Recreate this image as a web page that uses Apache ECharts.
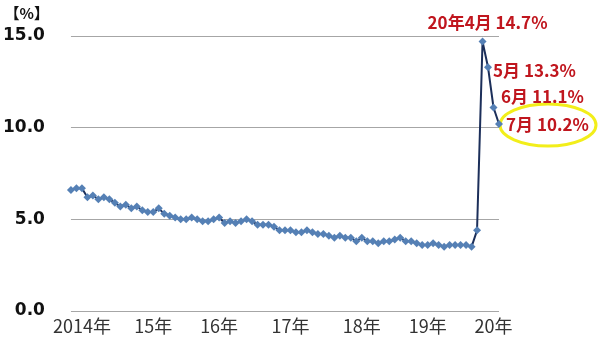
<!DOCTYPE html>
<html>
<head>
<meta charset="utf-8">
<script src="https://cdn.jsdelivr.net/npm/echarts@6/dist/echarts.min.js"></script>
<style>html,body{margin:0;padding:0;background:#fff}#c{width:600px;height:338px}</style>
</head>
<body>
<div id="c"></div>
<script>
// Months Jan 2014 .. Jul 2020
const years = [2014, 2015, 2016, 2017, 2018, 2019, 2020];
const rate2014 = [6.6, 6.7, 6.7, 6.2, 6.3, 6.1, 6.2, 6.1, 5.9, 5.7, 5.8, 5.6];
const rate2015 = [5.7, 5.5, 5.4, 5.4, 5.6, 5.3, 5.2, 5.1, 5.0, 5.0, 5.1, 5.0];
const rate2016 = [4.9, 4.9, 5.0, 5.1, 4.8, 4.9, 4.8, 4.9, 5.0, 4.9, 4.7, 4.7];
const rate2017 = [4.7, 4.6, 4.4, 4.4, 4.4, 4.3, 4.3, 4.4, 4.3, 4.2, 4.2, 4.1];
const rate2018 = [4.0, 4.1, 4.0, 4.0, 3.8, 4.0, 3.8, 3.8, 3.7, 3.8, 3.8, 3.9];
const rate2019 = [4.0, 3.8, 3.8, 3.7, 3.6, 3.6, 3.7, 3.6, 3.5, 3.6, 3.6, 3.6];
const rate2020 = [3.6, 3.5, 4.4, 14.7, 13.3, 11.1, 10.2];

// x tick labels and the month index where each is shown
const tickLabels = ['2014年', '15年', '16年', '17年', '18年', '19年', '20年'];
const tickIndex = [2, 15, 27, 40, 53, 65, 77];

// annotated points: month index -> label text
const noteIndex = [75, 76, 77, 78];
const noteText = ['20年4月 14.7%', '5月 13.3%', '6月 11.1%', '7月 10.2%'];

const allRates = [].concat(rate2014, rate2015, rate2016, rate2017, rate2018, rate2019, rate2020);
const categories = [];
years.forEach(function (y) {
  for (let m = 1; m <= 12; m++) categories.push(y + '-' + m);
});
categories.length = allRates.length;

// label placement relative to each annotated point (style only)
const noteAlign = ['center', 'left', 'left', 'left'];
const noteDx = [5, 5, 7.5, 7];
const noteDy = [-18.5, 3, -10.5, 1];

const chart = echarts.init(document.getElementById('c'), null, {renderer: 'canvas'});
const option = {
  animation: false,
  backgroundColor: '#ffffff',
  grid: {left: 70, right: 101, top: 36, bottom: 27, containLabel: false},
  xAxis: {
    type: 'category',
    data: categories,
    boundaryGap: false,
    axisLine: {show: false},
    axisTick: {show: false},
    axisLabel: {
      interval: function (i) { return tickIndex.indexOf(i) >= 0; },
      formatter: function (val, i) { const k = tickIndex.indexOf(i); return k >= 0 ? tickLabels[k] : ''; },
      color: '#333333',
      fontSize: 18,
      fontFamily: 'Noto Sans CJK JP',
      margin: 6
    },
    splitLine: {show: false}
  },
  yAxis: {
    type: 'value',
    min: 0,
    max: 15,
    interval: 5,
    name: '【%】',
    nameLocation: 'end',
    nameGap: 15,
    nameTextStyle: {
      color: '#111111',
      fontWeight: 'bold',
      fontSize: 15,
      fontFamily: 'Noto Sans CJK JP',
      align: 'right',
      padding: [0, 22, 0, 0]
    },
    axisLine: {show: false},
    axisTick: {show: false},
    axisLabel: {
      formatter: function (v) { return v.toFixed(1); },
      color: '#111111',
      fontWeight: 'bold',
      fontSize: 17,
      fontFamily: 'DejaVu Sans',
      margin: 26
    },
    splitLine: {lineStyle: {color: '#a6a6a6', width: 1}}
  },
  series: [{
    type: 'line',
    data: allRates,
    symbol: 'diamond',
    symbolSize: 8,
    showSymbol: true,
    showAllSymbol: true,
    lineStyle: {color: '#1c2f5a', width: 2},
    itemStyle: {color: '#5580b5'},
    z: 3
  }]
};
chart.setOption(option);

// annotations placed through the chart's own scales
const graphics = [{
  type: 'ellipse',
  shape: {cx: 548, cy: 125, rx: 48, ry: 21},
  style: {fill: 'none', stroke: '#f2ee1a', lineWidth: 3},
  z: 1
}];
noteIndex.forEach(function (idx, k) {
  const p = chart.convertToPixel({gridIndex: 0}, [idx, allRates[idx]]);
  graphics.push({
    type: 'text',
    x: p[0] + noteDx[k],
    y: p[1] + noteDy[k],
    z: 10,
    style: {
      text: noteText[k],
      fill: '#c0161e',
      font: 'bold 17px "Noto Sans CJK JP"',
      align: noteAlign[k],
      verticalAlign: 'middle'
    }
  });
});
chart.setOption({graphic: graphics});
</script>
</body>
</html>
